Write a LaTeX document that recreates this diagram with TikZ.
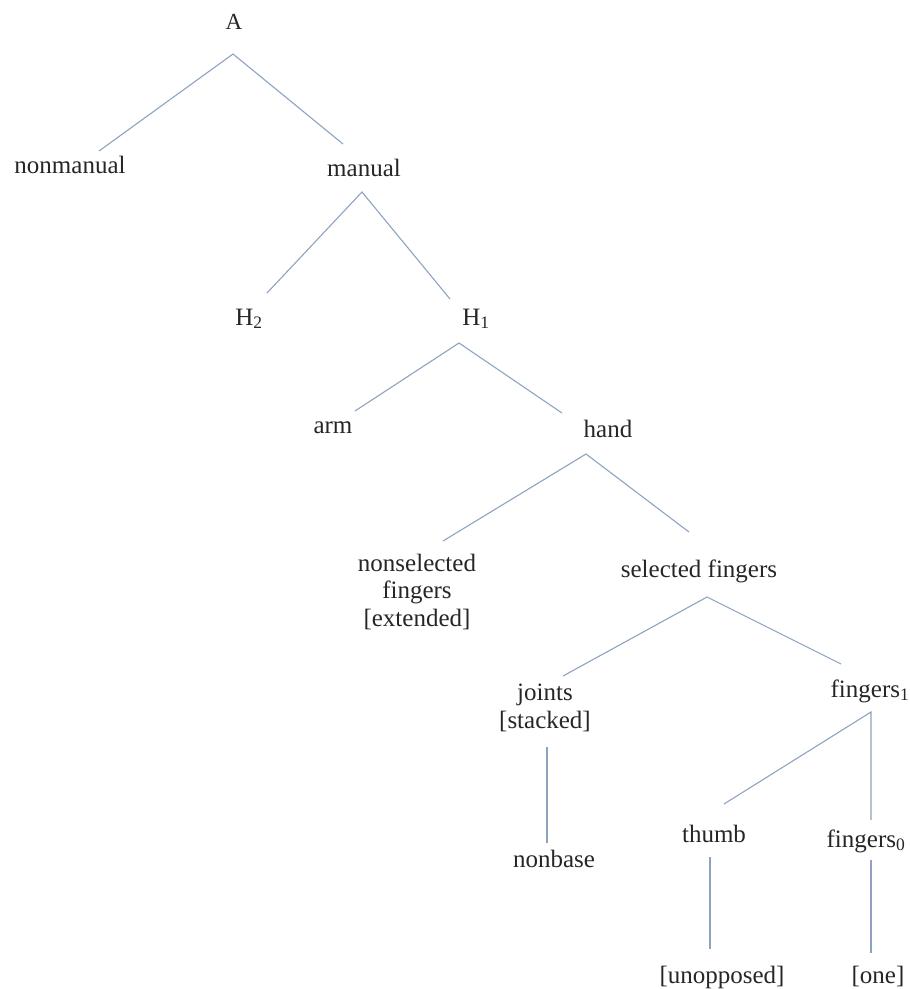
\documentclass[tikz,border=0pt]{standalone}
\usepackage{fontspec}
\setmainfont{Liberation Serif}
\definecolor{branchblue}{HTML}{8EA3BF}

\begin{document}
\begin{tikzpicture}[x=1pt,y=-1pt,
  lbl/.style={anchor=base,inner sep=0pt,align=center,text=black!85,font=\fontsize{25}{27.5}\selectfont},
  branch/.style={branchblue,line width=1.1pt}]
\useasboundingbox (0,0) rectangle (910,989);
% labels of the tree
\node[lbl,font=\fontsize{23}{25}\selectfont] (A) at (234,29) {A};
\node[lbl] (nonmanual) at (70,173) {nonmanual};
\node[lbl] (manual) at (364,176) {manual};
\node[lbl] (H2) at (249,325) {H\textsubscript{2}};
\node[lbl] (H1) at (476,325) {H\textsubscript{1}};
\node[lbl] (arm) at (333,433) {arm};
\node[lbl] (hand) at (608,437) {hand};
\node[lbl] (nonsel) at (417,626) {nonselected\\fingers\\{[extended]}};
\node[lbl] (sel) at (699,577) {selected fingers};
\node[lbl] (joints) at (545,728) {joints\\{[stacked]}};
\node[lbl] (fingersone) at (870,697) {fingers\textsubscript{1}};
\node[lbl] (nonbase) at (554,867) {nonbase};
\node[lbl] (thumb) at (714,842) {thumb};
\node[lbl] (fingerszero) at (866,847) {fingers\textsubscript{0}};
\node[lbl] (unopp) at (722,983) {[unopposed]};
\node[lbl] (one) at (878,983) {[one]};
% branches
\draw[branch] ([shift={(29pt,22pt)}]nonmanual.base) -- ([shift={(-1pt,-25pt)}]A.base) -- ([shift={(-21pt,32pt)}]manual.base);
\draw[branch] ([shift={(18pt,32pt)}]H2.base) -- ([shift={(-2pt,-16pt)}]manual.base) -- ([shift={(-26pt,26pt)}]H1.base);
\draw[branch] ([shift={(22pt,22pt)}]arm.base) -- ([shift={(-17pt,-18pt)}]H1.base) -- ([shift={(-46pt,24pt)}]hand.base);
\draw[branch] ([shift={(26pt,85pt)}]nonsel.base) -- ([shift={(-22pt,-17pt)}]hand.base) -- ([shift={(-10pt,45pt)}]sel.base);
\draw[branch] ([shift={(18pt,52pt)}]joints.base) -- ([shift={(8pt,-20pt)}]sel.base) -- ([shift={(-29pt,33pt)}]fingersone.base);
\draw[branch] ([shift={(2pt,-19pt)}]joints.base) -- ([shift={(-7pt,24pt)}]nonbase.base);
\draw[branch] ([shift={(10pt,38pt)}]thumb.base) -- ([shift={(1pt,-15pt)}]fingersone.base) -- ([shift={(5pt,27pt)}]fingerszero.base);
\draw[branch] ([shift={(-4pt,-15pt)}]thumb.base) -- ([shift={(-12pt,34pt)}]unopp.base);
\draw[branch] ([shift={(5pt,-13pt)}]fingerszero.base) -- ([shift={(-7pt,30pt)}]one.base);
\end{tikzpicture}
\end{document}
